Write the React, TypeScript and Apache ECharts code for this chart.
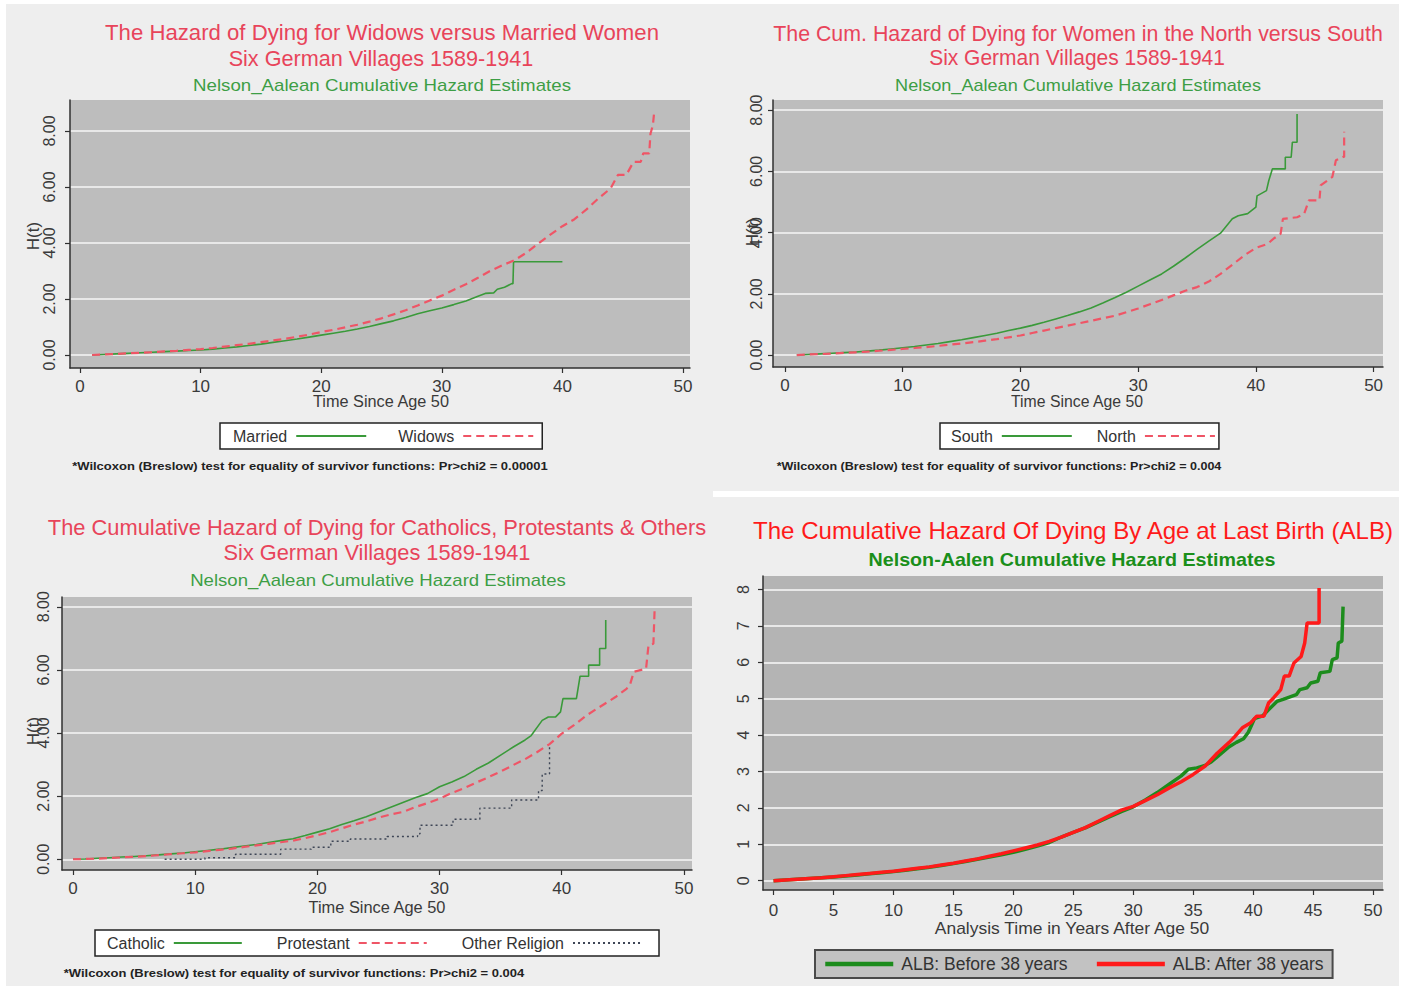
import React, { useEffect, useRef } from "react";
import * as echarts from "echarts";

// ---------- DATA ----------
// Panel 1: Widows vs Married (time since age 50, cumulative hazard)
const marriedData: number[][] = [
  [1, 0.0], [2, 0.02], [3, 0.04], [4, 0.06], [5, 0.08], [6, 0.1], [7, 0.12], [8, 0.14], [9, 0.16], [10, 0.18],
  [11, 0.21], [12, 0.25], [13, 0.29], [14, 0.34], [15, 0.39], [16, 0.45], [17, 0.51], [18, 0.57], [19, 0.64],
  [20, 0.71], [21, 0.78], [22, 0.85], [23, 0.93], [24, 1.02], [25, 1.12], [26, 1.22], [27, 1.34], [28, 1.47],
  [29, 1.58], [30, 1.68], [31, 1.8], [32, 1.93], [33, 2.1], [33.6, 2.2], [34.3, 2.22], [34.6, 2.35], [35.2, 2.42],
  [35.8, 2.55], [35.9, 2.55], [35.95, 3.33], [40, 3.33],
];
const widowsData: number[][] = [
  [1, 0.0], [2, 0.02], [3, 0.04], [4, 0.06], [5, 0.08], [6, 0.1], [7, 0.13], [8, 0.15], [9, 0.18], [10, 0.21],
  [11, 0.25], [12, 0.3], [13, 0.35], [14, 0.4], [15, 0.46], [16, 0.52], [17, 0.58], [18, 0.65], [19, 0.73],
  [20, 0.82], [21, 0.9], [22, 0.99], [23, 1.08], [24, 1.19], [25, 1.31], [26, 1.45], [27, 1.6], [28, 1.77],
  [29, 1.95], [30, 2.12], [31, 2.33], [32, 2.53], [33, 2.76], [34, 3.0], [35, 3.2], [36, 3.38], [37, 3.65],
  [38, 3.98], [39, 4.3], [40, 4.6], [41, 4.85], [42, 5.2], [43, 5.6], [44, 5.95], [44.6, 6.43], [45.3, 6.43],
  [45.9, 6.9], [46.5, 6.9], [46.7, 7.2], [47.2, 7.2], [47.3, 7.9], [47.5, 8.2], [47.6, 8.63],
];

// Panel 2: North vs South
const southData: number[][] = [
  [1, 0.0], [2, 0.02], [3, 0.04], [4, 0.06], [5, 0.08], [6, 0.1], [7, 0.13], [8, 0.16], [9, 0.2], [10, 0.24],
  [11, 0.28], [12, 0.33], [13, 0.38], [14, 0.44], [15, 0.5], [16, 0.57], [17, 0.64], [18, 0.71], [19, 0.8],
  [20, 0.88], [21, 0.97], [22, 1.07], [23, 1.18], [24, 1.29], [25, 1.41], [26, 1.54], [27, 1.7], [28, 1.87],
  [29, 2.05], [30, 2.25], [31, 2.45], [32, 2.65], [33, 2.9], [34, 3.17], [35, 3.45], [36, 3.72], [37, 3.98],
  [38, 4.45], [38.5, 4.55], [39.3, 4.62], [40, 4.83], [40.1, 5.2], [40.9, 5.37], [41.1, 5.7], [41.4, 6.08],
  [42.5, 6.08], [42.5, 6.46], [43.0, 6.46], [43.1, 6.95], [43.5, 6.95], [43.5, 7.87],
];
const northData: number[][] = [
  [1, 0.0], [2, 0.02], [3, 0.03], [4, 0.05], [5, 0.07], [6, 0.09], [7, 0.11], [8, 0.14], [9, 0.17], [10, 0.2],
  [11, 0.23], [12, 0.26], [13, 0.3], [14, 0.34], [15, 0.38], [16, 0.42], [17, 0.47], [18, 0.52], [19, 0.58],
  [20, 0.64], [21, 0.72], [22, 0.8], [23, 0.88], [24, 0.96], [25, 1.04], [26, 1.12], [27, 1.2], [28, 1.28],
  [29, 1.4], [30, 1.52], [31, 1.66], [32, 1.8], [33, 1.95], [34, 2.1], [35, 2.22], [36, 2.4], [37, 2.65],
  [38, 2.95], [39, 3.25], [40, 3.5], [41, 3.63], [41.5, 3.8], [42.1, 3.96], [42.3, 4.45], [43.5, 4.5],
  [44.1, 4.61], [44.5, 5.05], [45.4, 5.05], [45.5, 5.54], [46.5, 5.82], [46.8, 6.36], [47.4, 6.47],
  [47.5, 6.47], [47.5, 7.29],
];

// Panel 3: Religion
const catholicData: number[][] = [
  [0, 0], [1, 0.01], [2, 0.03], [3, 0.05], [4, 0.07], [5, 0.09], [6, 0.11], [7, 0.14], [8, 0.17], [9, 0.2],
  [10, 0.24], [11, 0.28], [12, 0.32], [13, 0.37], [14, 0.42], [15, 0.47], [16, 0.53], [17, 0.59], [18, 0.65],
  [19, 0.75], [20, 0.86], [21, 0.97], [22, 1.1], [23, 1.22], [24, 1.35], [25, 1.5], [26, 1.65], [27, 1.8],
  [28, 1.95], [29, 2.08], [30, 2.3], [31, 2.45], [32, 2.62], [33, 2.85], [34, 3.05], [35, 3.3], [36, 3.55],
  [37, 3.78], [37.5, 3.92], [38.4, 4.4], [38.9, 4.51], [39.5, 4.51], [39.9, 4.67], [40.1, 5.09], [41.2, 5.09],
  [41.5, 5.8], [42.2, 5.8], [42.2, 6.15], [43.1, 6.15], [43.1, 6.68], [43.6, 6.68], [43.6, 7.58],
];
const protestantData: number[][] = [
  [0, 0], [1, 0.01], [2, 0.02], [3, 0.04], [4, 0.06], [5, 0.08], [6, 0.1], [7, 0.13], [8, 0.16], [9, 0.19],
  [10, 0.22], [11, 0.26], [12, 0.3], [13, 0.34], [14, 0.39], [15, 0.44], [16, 0.49], [17, 0.54], [18, 0.59],
  [19, 0.67], [20, 0.76], [21, 0.86], [22, 0.98], [23, 1.1], [24, 1.2], [25, 1.32], [26, 1.42], [27, 1.5],
  [28, 1.65], [29, 1.78], [30, 1.92], [31, 2.1], [32, 2.25], [33, 2.43], [34, 2.6], [35, 2.78], [36, 2.98],
  [37, 3.17], [38, 3.4], [39, 3.65], [40, 3.98], [41, 4.25], [42, 4.55], [43, 4.8], [44.4, 5.14], [45.3, 5.4],
  [45.6, 5.55], [45.9, 5.94], [46.9, 6.04], [47.1, 6.78], [47.5, 6.83], [47.6, 7.9],
];
const otherReligionData: number[][] = [
  [7.5, 0.0], [10.8, 0.05], [13.3, 0.16], [17.0, 0.32], [19.5, 0.38], [21.1, 0.57], [22.7, 0.64], [25.7, 0.72],
  [28.2, 0.81], [28.4, 1.08], [31.1, 1.27], [33.3, 1.62], [35.9, 1.88], [38.1, 2.18], [38.4, 2.7], [39.0, 3.6],
];

// Panel 4: Age at last birth
const before38Data: number[][] = [
  [0, 0], [1, 0.02], [2, 0.04], [3, 0.06], [4, 0.08], [5, 0.1], [6, 0.13], [7, 0.16], [8, 0.19], [9, 0.22],
  [10, 0.25], [11, 0.29], [12, 0.33], [13, 0.37], [14, 0.42], [15, 0.47], [16, 0.53], [17, 0.59], [18, 0.65],
  [19, 0.71], [20, 0.78], [21, 0.86], [22, 0.95], [23, 1.05], [24, 1.2], [25, 1.33], [26, 1.45], [27, 1.6],
  [28, 1.75], [29, 1.9], [30, 2.03], [31, 2.22], [32, 2.42], [33, 2.65], [34, 2.88], [34.6, 3.06], [35.3, 3.1],
  [36, 3.17], [36.5, 3.26], [37, 3.4], [38, 3.68], [38.6, 3.8], [39.2, 3.9], [39.6, 4.08], [39.9, 4.3],
  [40.1, 4.45], [40.8, 4.53], [41.3, 4.7], [42.0, 4.93], [42.5, 4.98], [43.6, 5.11], [43.9, 5.25], [44.5, 5.3],
  [44.8, 5.43], [45.4, 5.48], [45.6, 5.71], [46.4, 5.75], [46.6, 6.07], [47.0, 6.12], [47.1, 6.53], [47.4, 6.58],
  [47.5, 7.53],
];
const after38Data: number[][] = [
  [0, 0], [1, 0.02], [2, 0.04], [3, 0.06], [4, 0.08], [5, 0.11], [6, 0.14], [7, 0.17], [8, 0.2], [9, 0.23],
  [10, 0.26], [11, 0.3], [12, 0.34], [13, 0.38], [14, 0.43], [15, 0.48], [16, 0.54], [17, 0.6], [18, 0.67],
  [19, 0.74], [20, 0.82], [21, 0.9], [22, 0.98], [23, 1.08], [24, 1.2], [25, 1.33], [26, 1.46], [27, 1.62],
  [28, 1.78], [29, 1.94], [30, 2.04], [31, 2.2], [32, 2.36], [33, 2.55], [34, 2.72], [35, 2.92], [36, 3.15],
  [37, 3.5], [38, 3.8], [38.5, 3.97], [39.1, 4.2], [39.8, 4.34], [40.3, 4.52], [40.9, 4.52], [41.3, 4.89],
  [41.7, 5.02], [42.3, 5.25], [42.6, 5.62], [43.0, 5.62], [43.4, 5.98], [44.0, 6.16], [44.3, 6.53], [44.5, 7.08],
  [45.5, 7.08], [45.5, 8.04],
];

// Tick values
const xTicks10 = [0, 10, 20, 30, 40, 50];
const xTicks5 = [0, 5, 10, 15, 20, 25, 30, 35, 40, 45, 50];
const yTicksEven = [0, 2, 4, 6, 8];
const yTicksUnit = [0, 1, 2, 3, 4, 5, 6, 7, 8];

// Names
const namesP1 = ["Married", "Widows"];
const namesP2 = ["South", "North"];
const namesP3 = ["Catholic", "Protestant", "Other Religion"];
const namesP4 = ["ALB: Before 38 years", "ALB: After 38 years"];

// ---------- STYLE / LAYOUT ----------
const FONT = '"Liberation Sans", Arial, sans-serif';
const RED = "#e8445a";
const GREEN_T = "#3d9e45";
const LINE_GREEN = "#3a9a3a";
const LINE_RED = "#ef5566";
const DOT = "#3e4656";
const RED4 = "#ff1a1a";
const GREEN4 = "#1c8c1c";
const PLOT_BG = "#bdbdbd";
const PLOT_BG4 = "#b4b4b4";
const GRID_LINE = "#e8e8e8";
const AXIS_COLOR = "#303030";
const LABEL_COLOR = "#3a3a3a";

function fitScale(text: string, font: string, target: number): number {
  try {
    const c = document.createElement("canvas").getContext("2d");
    if (!c) return 1;
    c.font = font;
    const w = c.measureText(text).width;
    return w > 0 ? target / w : 1;
  } catch (e) {
    return 1;
  }
}

type TextSpec = {
  text: string; cx: number; cy: number; size: number; color: string; w?: number; bold?: boolean; rot?: boolean;
};

const texts: TextSpec[] = [
  // Panel 1
  { text: "The Hazard of Dying for Widows versus Married Women", cx: 382, cy: 33, size: 22, color: RED, w: 554 },
  { text: "Six German Villages 1589-1941", cx: 381, cy: 58, size: 22, color: RED, w: 305 },
  { text: "Nelson_Aalean Cumulative Hazard Estimates", cx: 382, cy: 85, size: 17, color: GREEN_T, w: 378 },
  { text: "Time Since Age 50", cx: 381, cy: 401, size: 17, color: LABEL_COLOR, w: 137 },
  { text: "H(t)", cx: 33, cy: 236, size: 17, color: LABEL_COLOR, rot: true },
  { text: "*Wilcoxon (Breslow) test for equality of survivor functions: Pr>chi2 = 0.00001", cx: 310, cy: 466, size: 11, color: "#222", w: 476, bold: true },
  // Panel 2
  { text: "The Cum. Hazard of Dying for Women in the North versus South", cx: 1078, cy: 33, size: 22, color: RED, w: 610 },
  { text: "Six German Villages 1589-1941", cx: 1077, cy: 58, size: 22, color: RED, w: 296 },
  { text: "Nelson_Aalean Cumulative Hazard Estimates", cx: 1078, cy: 85, size: 17, color: GREEN_T, w: 366 },
  { text: "Time Since Age 50", cx: 1077, cy: 401, size: 17, color: LABEL_COLOR, w: 133 },
  { text: "H(t)", cx: 752, cy: 232, size: 17, color: LABEL_COLOR, rot: true },
  { text: "*Wilcoxon (Breslow) test for equality of survivor functions: Pr>chi2 = 0.004", cx: 999, cy: 466, size: 11, color: "#222", w: 445, bold: true },
  // Panel 3
  { text: "The Cumulative Hazard of Dying for Catholics, Protestants & Others", cx: 377, cy: 527, size: 22, color: RED, w: 659 },
  { text: "Six German Villages 1589-1941", cx: 377, cy: 552, size: 22, color: RED, w: 307 },
  { text: "Nelson_Aalean Cumulative Hazard Estimates", cx: 378, cy: 580, size: 17, color: GREEN_T, w: 376 },
  { text: "Time Since Age 50", cx: 377, cy: 907, size: 17, color: LABEL_COLOR, w: 138 },
  { text: "H(t)", cx: 33, cy: 731, size: 17, color: LABEL_COLOR, rot: true },
  { text: "*Wilcoxon (Breslow) test for equality of survivor functions: Pr>chi2 = 0.004", cx: 294, cy: 973, size: 11, color: "#222", w: 461, bold: true },
  // Panel 4
  { text: "The Cumulative Hazard Of Dying By Age at Last Birth (ALB)", cx: 1073, cy: 531, size: 23, color: RED4, w: 642 },
  { text: "Nelson-Aalen Cumulative Hazard Estimates", cx: 1072, cy: 560, size: 18, color: "#1a8f1a", w: 407, bold: true },
  { text: "Analysis Time in Years After Age 50", cx: 1072, cy: 928, size: 17, color: LABEL_COLOR, w: 277 },
];

type Panel = {
  grid: { left: number; top: number; width: number; height: number };
  x: [number, number]; y: [number, number];
  xt: number[]; yt: number[]; dec: number; bg: string; ylm: number; xlm: number;
};

const panels: Panel[] = [
  { grid: { left: 70, top: 100, width: 620, height: 268 }, x: [-0.83, 50.58], y: [-0.464, 9.107], xt: xTicks10, yt: yTicksEven, dec: 2, bg: PLOT_BG, ylm: 13, xlm: 10 },
  { grid: { left: 773, top: 100, width: 610, height: 267 }, x: [-1.02, 50.8], y: [-0.39, 8.33], xt: xTicks10, yt: yTicksEven, dec: 2, bg: PLOT_BG, ylm: 9, xlm: 10 },
  { grid: { left: 62, top: 597, width: 630, height: 273 }, x: [-0.9, 50.66], y: [-0.34, 8.31], xt: xTicks10, yt: yTicksEven, dec: 2, bg: PLOT_BG, ylm: 11, xlm: 10 },
  { grid: { left: 763, top: 576, width: 620, height: 314 }, x: [-0.88, 50.83], y: [-0.255, 8.37], xt: xTicks5, yt: yTicksUnit, dec: 0, bg: PLOT_BG4, ylm: 12, xlm: 12 },
];

function buildOption() {
  const grids = panels.map((p) => ({
    ...p.grid, show: true, backgroundColor: p.bg, borderWidth: 0, containLabel: false,
  }));
  const xAxes = panels.map((p, i) => ({
    type: "value", gridIndex: i, min: p.x[0], max: p.x[1],
    axisLine: { show: true, onZero: false, lineStyle: { color: AXIS_COLOR, width: 1.5 } },
    axisTick: { show: true, length: 5, customValues: p.xt, lineStyle: { color: AXIS_COLOR, width: 1.2 } },
    axisLabel: { customValues: p.xt, fontSize: 17, fontFamily: FONT, color: LABEL_COLOR, margin: p.xlm },
    splitLine: { show: false },
  }));
  const yAxes = panels.map((p, i) => ({
    type: "value", gridIndex: i, min: p.y[0], max: p.y[1],
    axisLine: { show: true, onZero: false, lineStyle: { color: AXIS_COLOR, width: 1.5 } },
    axisTick: { show: true, length: 5, customValues: p.yt, lineStyle: { color: AXIS_COLOR, width: 1.2 } },
    axisLabel: {
      customValues: p.yt, fontSize: 16, fontFamily: FONT, color: LABEL_COLOR, margin: p.ylm, rotate: 90,
      formatter: (v: number) => v.toFixed(p.dec),
    },
    splitLine: { show: true, lineStyle: { color: GRID_LINE, width: 2 } },
  }));

  const mk = (name: string, data: number[][], idx: number, color: string, width: number, type: any, z = 2, step: any = false) => ({
    name, type: "line", data, xAxisIndex: idx, yAxisIndex: idx, step,
    showSymbol: false, symbol: "none", z,
    lineStyle: { color, width, type }, itemStyle: { color },
  });

  const series = [
    mk(namesP1[0], marriedData, 0, LINE_GREEN, 1.6, "solid"),
    mk(namesP1[1], widowsData, 0, LINE_RED, 2.2, [8, 5], 3),
    mk(namesP2[0], southData, 1, LINE_GREEN, 1.6, "solid"),
    mk(namesP2[1], northData, 1, LINE_RED, 2.2, [8, 5], 3),
    mk(namesP3[0], catholicData, 2, LINE_GREEN, 1.6, "solid"),
    mk(namesP3[1], protestantData, 2, LINE_RED, 2.2, [8, 5], 3),
    mk(namesP3[2], otherReligionData, 2, DOT, 1.4, [2, 3], 4, "end"),
    mk(namesP4[0], before38Data, 3, GREEN4, 3.5, "solid"),
    mk(namesP4[1], after38Data, 3, RED4, 3.5, "solid", 3),
  ];

  const legendBase = {
    selectedMode: false, orient: "horizontal", itemWidth: 70, itemHeight: 14,
    itemStyle: { opacity: 0, borderWidth: 0 },
    textStyle: { fontSize: 16, fontFamily: FONT, color: "#333", padding: [0, 4, 0, 0] },
    backgroundColor: "#ffffff", borderColor: "#222", borderWidth: 1.5, borderRadius: 0,
  };
  const legends = [
    { ...legendBase, data: namesP1, left: 220, top: 423, align: "right", itemGap: 31, padding: [5, 8, 5, 13] },
    { ...legendBase, data: namesP2, left: 940, top: 423, align: "right", itemGap: 24, padding: [5, 3, 5, 11] },
    { ...legendBase, data: namesP3, left: 95, top: 930, align: "right", itemGap: 34, itemWidth: 68, padding: [5, 17, 5, 12] },
    {
      ...legendBase, data: namesP4, left: 815, top: 950, align: "left", itemGap: 27, itemWidth: 68,
      padding: [5, 8, 5, 8], backgroundColor: "#c2c2c2", borderColor: "#4a4a4a", borderWidth: 2,
      lineStyle: { width: 4.5 },
      textStyle: { fontSize: 17.5, fontFamily: FONT, color: "#333", padding: [0, 0, 0, 3] },
    },
  ];

  const textEls = texts.map((t) => {
    const font = `${t.bold ? "bold " : ""}${t.size}px ${FONT}`;
    const sx = t.w ? fitScale(t.text, font, t.w) : 1;
    return {
      type: "text", x: t.cx, y: t.cy, scaleX: sx, rotation: t.rot ? Math.PI / 2 : 0, z: 100,
      style: {
        text: t.text, fill: t.color, font, textAlign: "center", textVerticalAlign: "middle",
      },
    };
  });

  const frame = [
    { type: "rect", shape: { x: 0, y: 0, width: 1411, height: 4 }, style: { fill: "#ffffff" }, z: -10 },
    { type: "rect", shape: { x: 0, y: 0, width: 6, height: 989 }, style: { fill: "#ffffff" }, z: -10 },
    { type: "rect", shape: { x: 1399, y: 0, width: 12, height: 989 }, style: { fill: "#ffffff" }, z: -10 },
    { type: "rect", shape: { x: 0, y: 986, width: 1411, height: 3 }, style: { fill: "#ffffff" }, z: -10 },
    { type: "rect", shape: { x: 713, y: 491, width: 690, height: 6 }, style: { fill: "#ffffff" }, z: -10 },
  ];

  return {
    animation: false,
    backgroundColor: "#eeeeee",
    grid: grids,
    xAxis: xAxes,
    yAxis: yAxes,
    legend: legends,
    series,
    graphic: { elements: [...frame, ...textEls] },
  };
}

export default function App() {
  const ref = useRef<HTMLDivElement>(null);
  useEffect(() => {
    if (!ref.current) return;
    const chart = echarts.init(ref.current, null, { renderer: "svg" });
    chart.setOption(buildOption() as any);
    return () => chart.dispose();
  }, []);
  return (
    <div
      ref={ref}
      style={{ position: "absolute", left: 0, top: 0, width: 1411, height: 989 }}
    />
  );
}
